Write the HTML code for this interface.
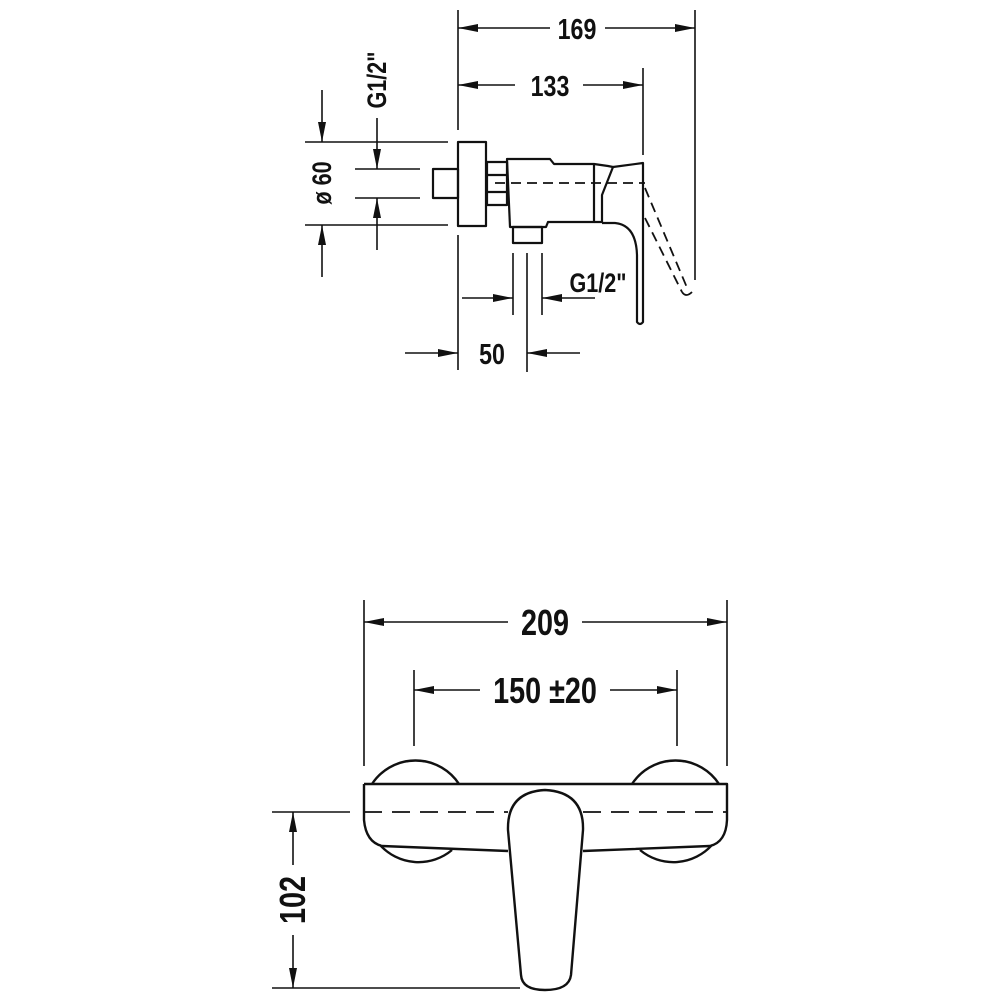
<!DOCTYPE html>
<html><head><style>body{margin:0;background:#fff}svg{display:block}text{font-family:"Liberation Sans",sans-serif;font-weight:bold;fill:#111}</style></head>
<body>
<svg width="1000" height="1000" viewBox="0 0 1000 1000" xmlns="http://www.w3.org/2000/svg">
<defs>
<marker id="a" viewBox="0 0 20 10" refX="20" refY="5" markerWidth="22" markerHeight="10" markerUnits="userSpaceOnUse" orient="auto-start-reverse"><path d="M0,1 L20,5 L0,9 Z" fill="#111"/></marker>
</defs>
<g stroke="#111" stroke-width="1.6" fill="none">
<line x1="458" y1="10" x2="458" y2="130"/>
<line x1="458" y1="235" x2="458" y2="370"/>
<line x1="695" y1="10" x2="695" y2="280"/>
<line x1="643" y1="68" x2="643" y2="155"/>
<line x1="458" y1="28" x2="550" y2="28" marker-start="url(#a)"/>
<line x1="605" y1="28" x2="695" y2="28" marker-end="url(#a)"/>
<line x1="458" y1="85" x2="515" y2="85" marker-start="url(#a)"/>
<line x1="583" y1="85" x2="643" y2="85" marker-end="url(#a)"/>
<line x1="305" y1="142" x2="448" y2="142"/>
<line x1="305" y1="225" x2="448" y2="225"/>
<line x1="355" y1="169" x2="420" y2="169"/>
<line x1="355" y1="198" x2="420" y2="198"/>
<line x1="322" y1="90" x2="322" y2="142" marker-end="url(#a)"/>
<line x1="322" y1="277" x2="322" y2="225" marker-end="url(#a)"/>
<line x1="377" y1="118" x2="377" y2="169" marker-end="url(#a)"/>
<line x1="377" y1="250" x2="377" y2="198" marker-end="url(#a)"/>
<line x1="513" y1="253" x2="513" y2="315"/>
<line x1="542" y1="253" x2="542" y2="315"/>
<line x1="527" y1="253" x2="527" y2="372"/>
<line x1="462" y1="298" x2="513" y2="298" marker-end="url(#a)"/>
<line x1="595" y1="298" x2="542" y2="298" marker-end="url(#a)"/>
<line x1="405" y1="353" x2="458" y2="353" marker-end="url(#a)"/>
<line x1="580" y1="353" x2="527" y2="353" marker-end="url(#a)"/>
</g>
<g stroke="#111" stroke-width="2.2" fill="none" stroke-linejoin="round">
<rect x="433" y="169" width="25" height="29"/>
<rect x="458" y="142" width="28" height="84"/>
<rect x="487" y="162" width="20" height="43"/>
<line x1="487" y1="175" x2="507" y2="175"/>
<line x1="487" y1="192" x2="507" y2="192"/>
<path d="M507,159 L550,159 L554,164 L594,164 L594,222 L548,222 L546,227 L510,227 Z"/>
<rect x="513" y="227" width="29" height="16"/>
<path d="M594,164 L608,166 L613,167 L602,195 L602,222 L594,222"/>
<path d="M613,167 L643,163 L643,322 Q640,326 637,322 L637,255 Q636,225 615,223 L602,223"/>
</g>
<g stroke="#111" stroke-width="1.8" fill="none" stroke-dasharray="10,6">
<line x1="495" y1="183" x2="645" y2="183"/>
<line x1="645" y1="188" x2="688" y2="290"/>
<line x1="645" y1="218" x2="682" y2="292"/>
</g>
<path d="M682,292 Q686,298 692,292" stroke="#111" stroke-width="1.8" fill="none"/>
<text transform="translate(577,39) scale(0.8,1)" text-anchor="middle" font-size="29">169</text>
<text transform="translate(550,96) scale(0.8,1)" text-anchor="middle" font-size="29">133</text>
<text transform="translate(598,292) scale(0.8,1)" text-anchor="middle" font-size="27">G1/2"</text>
<text transform="translate(492,364) scale(0.8,1)" text-anchor="middle" font-size="29">50</text>
<text transform="translate(331,183) rotate(-90) scale(0.8,1)" text-anchor="middle" font-size="27">ø 60</text>
<text transform="translate(386,80) rotate(-90) scale(0.8,1)" text-anchor="middle" font-size="27">G1/2"</text>

<g stroke="#111" stroke-width="1.6" fill="none">
<line x1="364" y1="600" x2="364" y2="766"/>
<line x1="727" y1="600" x2="727" y2="766"/>
<line x1="414" y1="670" x2="414" y2="746"/>
<line x1="677" y1="670" x2="677" y2="746"/>
<line x1="364" y1="622" x2="508" y2="622" marker-start="url(#a)"/>
<line x1="582" y1="622" x2="727" y2="622" marker-end="url(#a)"/>
<line x1="414" y1="690" x2="480" y2="690" marker-start="url(#a)"/>
<line x1="610" y1="690" x2="677" y2="690" marker-end="url(#a)"/>
<line x1="272" y1="812" x2="350" y2="812"/>
<line x1="272" y1="988" x2="520" y2="988"/>
<line x1="293" y1="865" x2="293" y2="812" marker-end="url(#a)"/>
<line x1="293" y1="935" x2="293" y2="988" marker-end="url(#a)"/>
</g>
<g stroke="#111" stroke-width="2.4" fill="none" stroke-linejoin="round">
<path d="M372,784 A52,52 0 0 1 459,784"/>
<path d="M632,784 A52,52 0 0 1 719,784"/>
<path d="M380,845 A52,52 0 0 0 452,850"/>
<path d="M640,850 A52,52 0 0 0 712,845"/>
<path d="M364,784 L727,784 L727,820 Q726,842 710,846 L583,851"/>
<path d="M364,784 L364,820 Q366,842 382,846 L508,851"/>
<path d="M545,790 Q584,792 583,830 L571,975 Q569,990 545,990 Q522,990 521,975 L508,830 Q507,792 545,790 Z" fill="#fff"/>
</g>
<g stroke="#111" stroke-width="1.8" stroke-dasharray="18,10" fill="none">
<line x1="364" y1="812" x2="508" y2="812"/>
<line x1="583" y1="812" x2="727" y2="812"/>
</g>
<text transform="translate(545,635) scale(0.8,1)" text-anchor="middle" font-size="36">209</text>
<text transform="translate(545,703) scale(0.8,1)" text-anchor="middle" font-size="36">150 ±20</text>
<text transform="translate(305,900) rotate(-90) scale(0.8,1)" text-anchor="middle" font-size="36">102</text>
</svg>
</body></html>
